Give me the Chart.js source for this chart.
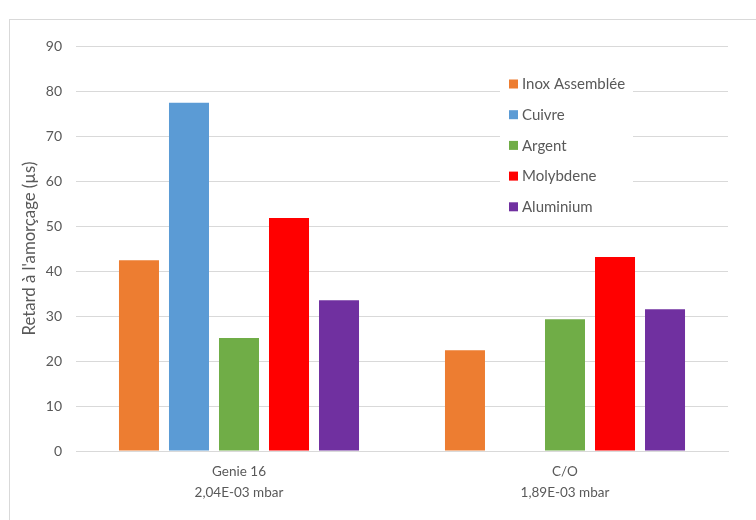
<!DOCTYPE html>
<html>
<head>
<meta charset="utf-8">
<script src="https://cdn.jsdelivr.net/npm/chart.js@4"></script>
<style>
  html, body { margin: 0; padding: 0; background: #ffffff; }
  #wrap { position: relative; width: 756px; height: 520px; }
</style>
</head>
<body>
<div id="wrap"><canvas id="c" width="756" height="520"></canvas></div>
<script>
const categories = [["Genie 16", "2,04E-03 mbar"], ["C/O", "1,89E-03 mbar"]];
const seriesNames = ["Inox Assemblée", "Cuivre", "Argent", "Molybdene", "Aluminium"];
const inox = [42.4, 22.4];
const cuivre = [77.4, null];
const argent = [25.1, 29.3];
const molybdene = [51.8, 43.1];
const aluminium = [33.5, 31.5];
const seriesColors = ["#ED7D31", "#5B9BD5", "#70AD47", "#FF0000", "#7030A0"];
const yTitle = "Retard à l'amorçage (µs)";
const yMin = 0, yMax = 90, yStep = 10;

const FONT = "Lato, 'Liberation Sans', sans-serif";
const TEXT = "#595959";

const seriesValues = [inox, cuivre, argent, molybdene, aluminium];

// size the axis title so its length matches the reference (~174px)
function fitSize(text, target, base) {
  const m = document.createElement('canvas').getContext('2d');
  m.font = base + "px " + FONT;
  const w = m.measureText(text).width;
  const s = base * target / w;
  return Math.max(12, Math.min(17, s));
}
const titleSize = fitSize(yTitle, 174, 14);

const framePlugin = {
  id: 'frame',
  beforeDraw(chart) {
    const ctx = chart.ctx;
    ctx.save();
    ctx.fillStyle = '#ffffff';
    ctx.fillRect(0, 0, chart.width, chart.height);
    ctx.strokeStyle = '#d9d9d9';
    ctx.lineWidth = 1;
    ctx.strokeRect(9.5, 19.5, 900, 700);
    ctx.restore();
  }
};

const innerLegend = {
  id: 'innerLegend',
  afterDatasetsDraw(chart) {
    const ctx = chart.ctx;
    const ds = chart.data.datasets;
    const x0 = 500, y0 = 68, w = 133, h = 154;
    ctx.save();
    ctx.fillStyle = '#ffffff';
    ctx.fillRect(x0, y0, w, h);
    ctx.font = "15px " + FONT;
    ctx.textBaseline = 'middle';
    ctx.textAlign = 'left';
    ds.forEach((d, i) => {
      const cy = 84 + i * 30.7;
      ctx.fillStyle = d.backgroundColor;
      ctx.fillRect(509, cy - 4.5, 9, 9);
      ctx.fillStyle = TEXT;
      ctx.fillText(d.label, 522, cy + 0.5);
    });
    ctx.restore();
  }
};

new Chart(document.getElementById('c'), {
  type: 'bar',
  data: {
    labels: categories,
    datasets: seriesNames.map((name, i) => ({
      label: name,
      data: seriesValues[i],
      backgroundColor: seriesColors[i],
      borderWidth: 0
    }))
  },
  options: {
    responsive: false,
    animation: false,
    devicePixelRatio: 1,
    layout: { padding: { left: 9, right: 28, top: 46, bottom: 0 } },
    datasets: { bar: { barPercentage: 0.8, categoryPercentage: 0.767 } },
    plugins: {
      legend: { display: false },
      tooltip: { enabled: false },
      title: { display: false }
    },
    scales: {
      x: {
        grid: { display: false, drawTicks: false },
        border: { display: true, color: '#d9d9d9' },
        ticks: {
          color: TEXT,
          font: { family: FONT, size: 13.5, lineHeight: 1.56 },
          padding: 10,
          maxRotation: 0,
          autoSkip: false
        },
        afterFit(s) { s.height = 69; }
      },
      y: {
        min: yMin, max: yMax,
        grid: { color: '#d9d9d9', lineWidth: 1, drawTicks: false },
        border: { display: false },
        ticks: {
          stepSize: yStep,
          color: TEXT,
          font: { family: FONT, size: 14 },
          padding: 14
        },
        title: {
          display: true,
          text: yTitle,
          color: TEXT,
          font: { family: FONT, size: titleSize, lineHeight: 1.2 },
          padding: { top: 21 - titleSize * 0.6, bottom: 0 }
        },
        afterFit(s) { s.width = 67; }
      }
    }
  },
  plugins: [framePlugin, innerLegend]
});
</script>
</body>
</html>
